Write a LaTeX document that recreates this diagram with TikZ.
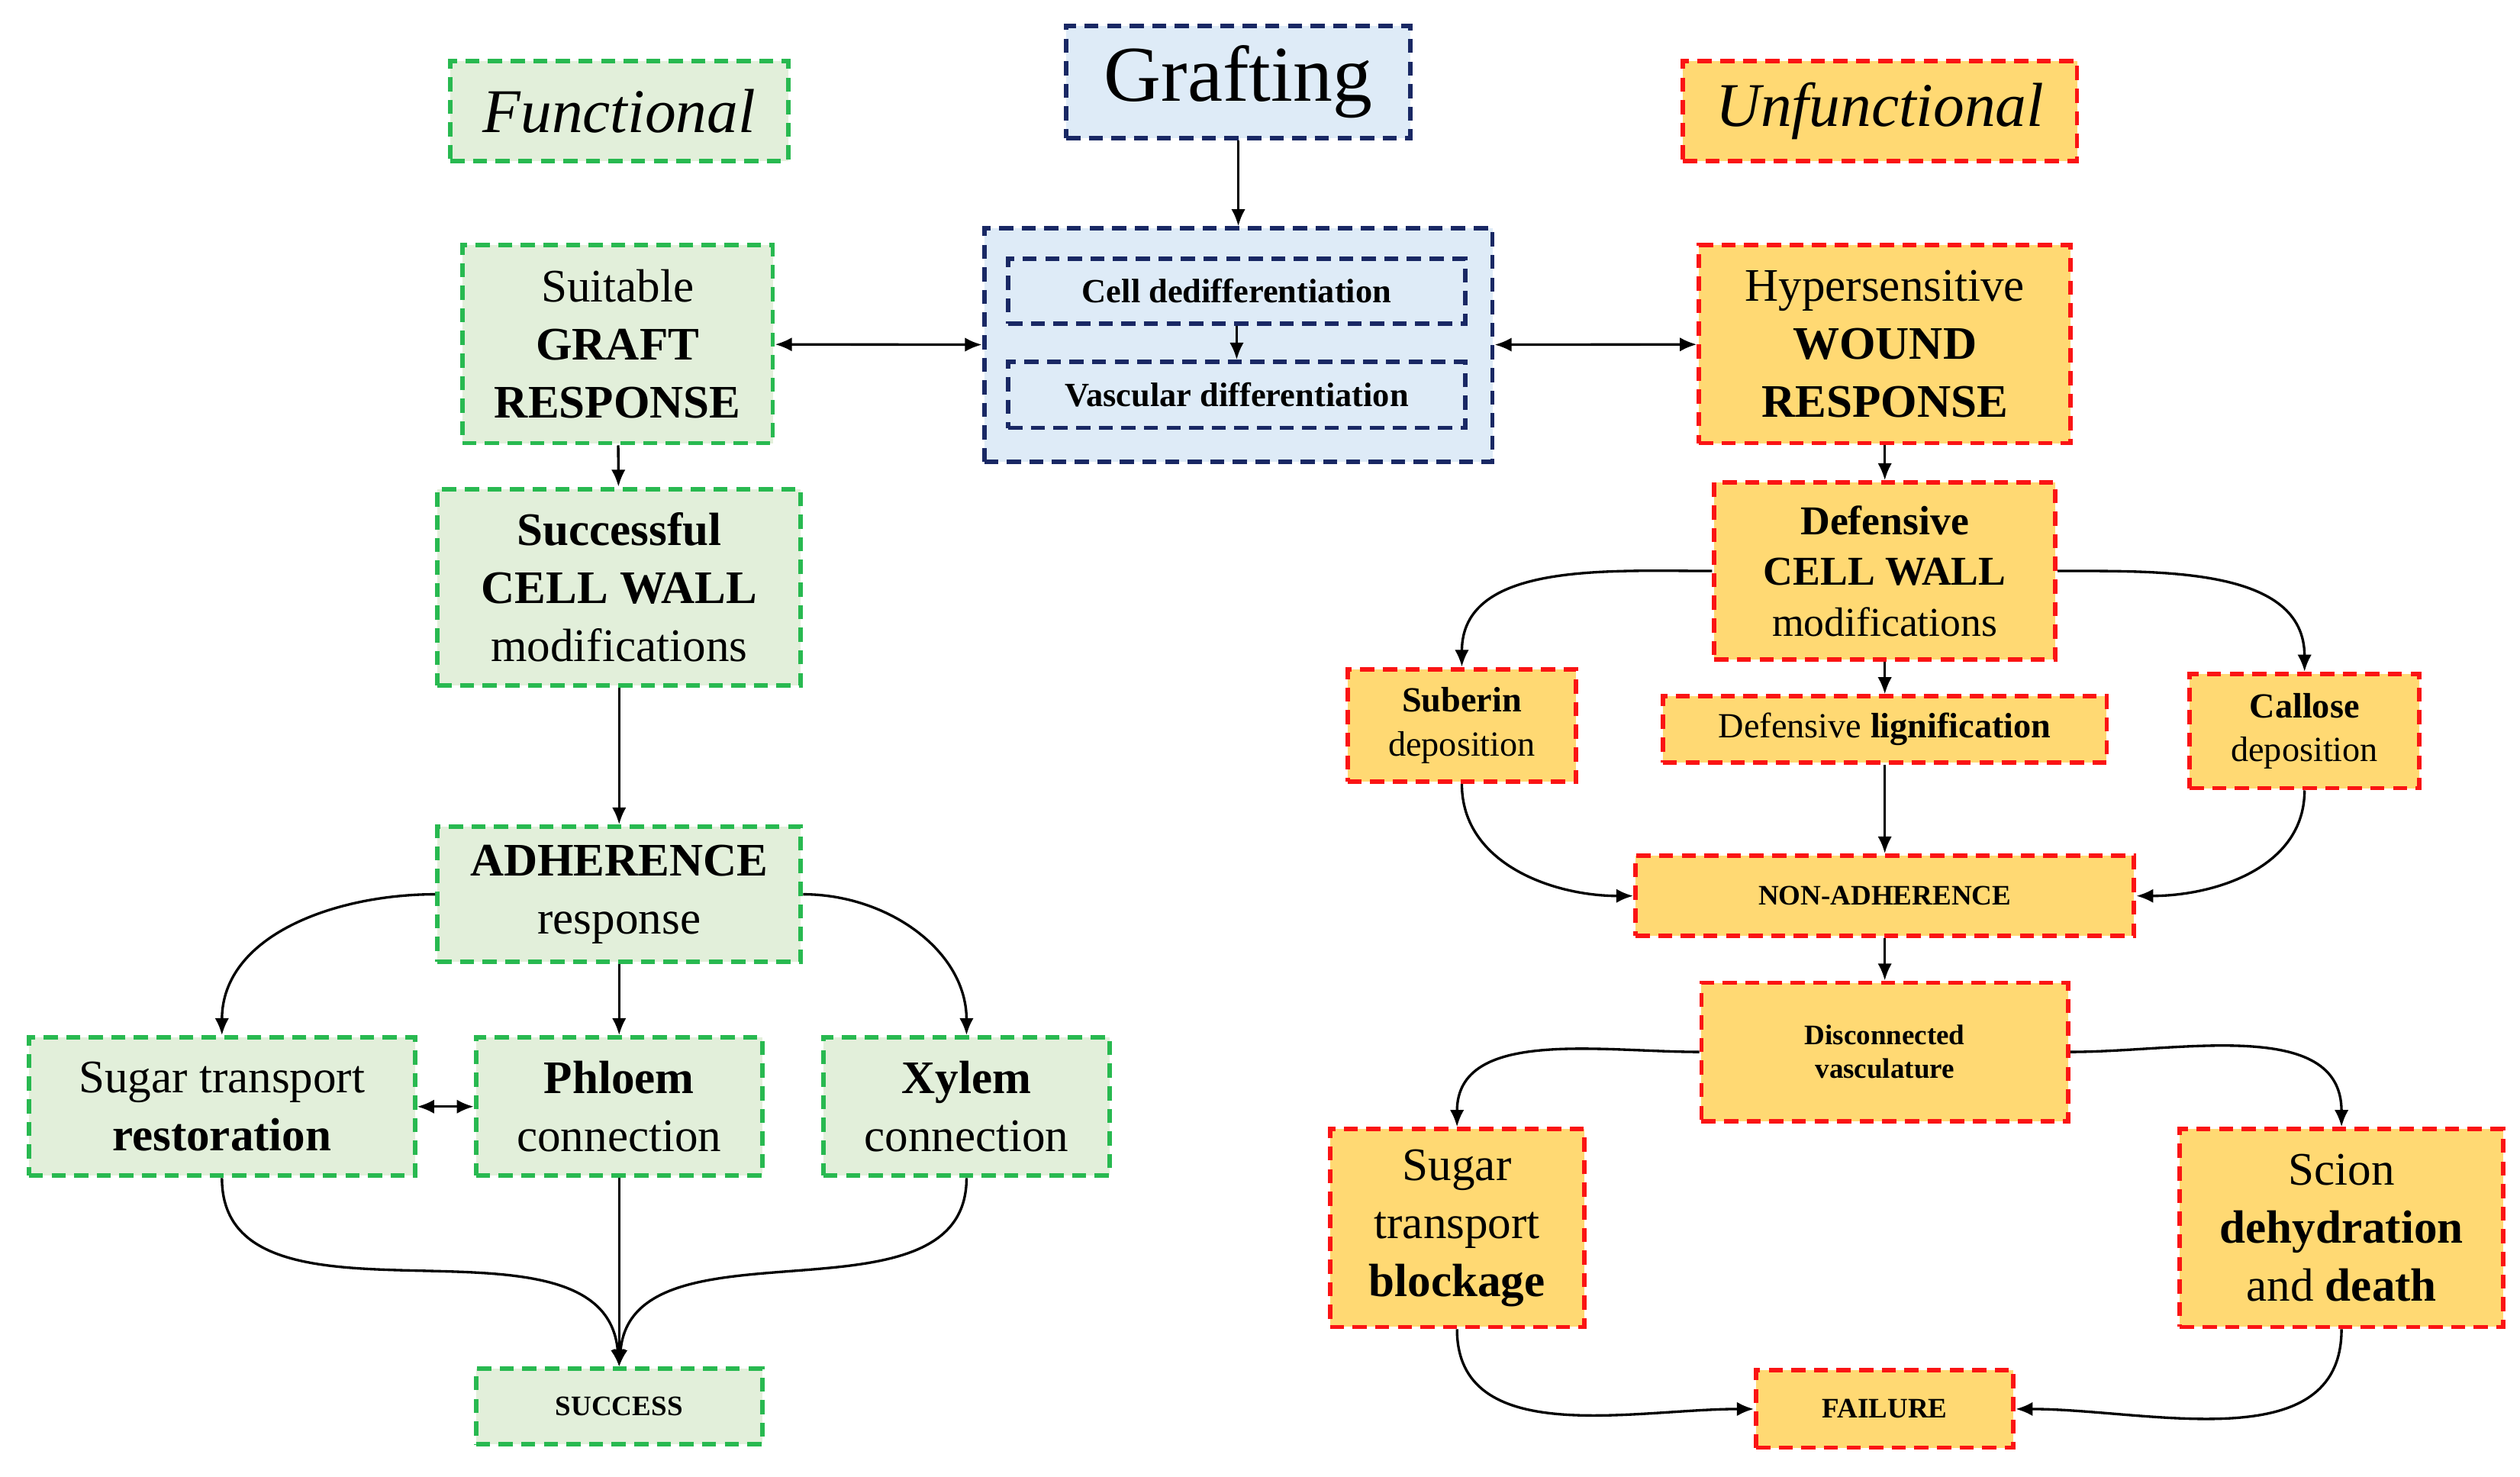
\documentclass[tikz,border=0pt]{standalone}
\usepackage{fontspec}
\setmainfont{Liberation Serif}
\usetikzlibrary{arrows.meta}
\definecolor{gB}{RGB}{40,185,80}\definecolor{gF}{RGB}{226,239,218}
\definecolor{bB}{RGB}{25,40,100}\definecolor{bF}{RGB}{222,235,247}
\definecolor{rB}{RGB}{250,20,20}\definecolor{rF}{RGB}{255,217,115}
\tikzset{
 bx/.style={draw,dashed,line width=1.6pt,dash pattern=on 5pt off 3pt,align=center,inner sep=0pt},
 g/.style={bx,draw=gB,fill=gF},
 b/.style={bx,draw=bB,fill=bF},
 r/.style={bx,draw=rB,fill=rF},
 sz/.style 2 args={minimum width=#1*0.02cm,minimum height=#2*0.02cm},
 big/.style={font=\fontsize{16.5}{20.5}\selectfont},
 sm/.style={font=\fontsize{12.5}{15.5}\selectfont},
 ar/.style={-{Latex[length=6pt,width=5pt]},line width=0.9pt},
 dar/.style={{Latex[length=6pt,width=5pt]}-{Latex[length=6pt,width=5pt]},line width=0.9pt}
}
\begin{document}
\begin{tikzpicture}[x=0.02cm,y=-0.02cm]
\useasboundingbox (0,0) rectangle (1567,918);
\node[g,sz={210}{62},font=\fontsize{22}{26}\selectfont\itshape] (fun) at (385,69) {Functional};
\node[b,sz={214}{70},font=\fontsize{28}{32}\selectfont] (gra) at (770,51) {Grafting};
\node[r,sz={245}{62},font=\fontsize{22}{26}\selectfont\itshape] (unf) at (1169,69) {Unfunctional};
\node[b,sz={316}{145}] (blu) at (770,214.5) {};
\node[b,sz={284}{40},font=\fontsize{12}{14}\selectfont\bfseries] (ced) at (769,181) {Cell dedifferentiation};
\node[b,sz={284}{41},font=\fontsize{12}{14}\selectfont\bfseries] (vad) at (769,245.5) {Vascular differentiation};
\node[g,sz={193}{123},big] (sui) at (384,214) {Suitable\\\textbf{GRAFT}\\\textbf{RESPONSE}};
\node[r,sz={231}{123},big] (hyp) at (1172,214) {Hypersensitive\\\textbf{WOUND}\\\textbf{RESPONSE}};
\node[g,sz={226}{122},big] (scw) at (385,365) {\textbf{Successful}\\\textbf{CELL WALL}\\modifications};
\node[r,sz={212}{110},font=\fontsize{14.5}{18}\selectfont] (dcw) at (1172,355) {\textbf{Defensive}\\\textbf{CELL WALL}\\modifications};
\node[r,sz={142}{70},sm] (sub) at (909,451) {\textbf{Suberin}\\deposition};
\node[r,sz={276}{41},sm] (lig) at (1172,453.5) {Defensive \textbf{lignification}};
\node[r,sz={143}{71},sm] (cal) at (1433,454.5) {\textbf{Callose}\\deposition};
\node[r,sz={310}{50},big,font=\bfseries] (non) at (1172,557) {NON-ADHERENCE};
\node[r,sz={228}{86},big,font=\bfseries] (dis) at (1172,654) {Disconnected\\vasculature};
\node[g,sz={226}{84},big] (adh) at (385,556) {\textbf{ADHERENCE}\\response};
\node[g,sz={240}{86},big] (sug) at (138,688) {Sugar transport\\\textbf{restoration}};
\node[g,sz={178}{86},big] (phl) at (385,688) {\textbf{Phloem}\\connection};
\node[g,sz={178}{86},big] (xyl) at (601,688) {\textbf{Xylem}\\connection};
\node[g,sz={178}{47},big,font=\bfseries] (suc) at (385,874.5) {SUCCESS};
\node[r,sz={158}{123},big] (sbl) at (906,763.5) {Sugar\\transport\\\textbf{blockage}};
\node[r,sz={201}{123},big] (sci) at (1456,763.5) {Scion\\\textbf{dehydration}\\and \textbf{death}};
\node[r,sz={160}{48},big,font=\bfseries] (fai) at (1172,876) {FAILURE};
% connectors
\draw[ar] (gra) -- (blu);
\draw[ar] (ced) -- (vad);
\draw[dar] (sui) -- (blu);
\draw[dar] (blu) -- (hyp);
\draw[ar] (sui) -- (scw);
\draw[ar] (scw) -- (adh);
\draw[ar] (adh.west) to[out=180,in=90] (sug.north);
\draw[ar] (adh) -- (phl);
\draw[ar] (adh.east) to[out=0,in=90] (xyl.north);
\draw[dar] (sug) -- (phl);
\draw[ar] (sug.south) to[out=-90,in=95] (suc.north);
\draw[ar] (phl) -- (suc);
\draw[ar] (xyl.south) to[out=-90,in=85] (suc.north);
\draw[ar] (hyp) -- (dcw);
\draw[ar] (dcw.west) to[out=180,in=90] (sub.north);
\draw[ar] (dcw) -- (lig);
\draw[ar] (dcw.east) to[out=0,in=90] (cal.north);
\draw[ar] (sub.south) to[out=-90,in=180] (non.west);
\draw[ar] (lig) -- (non);
\draw[ar] (cal.south) to[out=-90,in=0] (non.east);
\draw[ar] (non) -- (dis);
\draw[ar] (dis.west) to[out=180,in=90] (sbl.north);
\draw[ar] (dis.east) to[out=0,in=90] (sci.north);
\draw[ar] (sbl.south) to[out=-90,in=180] (fai.west);
\draw[ar] (sci.south) to[out=-90,in=0] (fai.east);
\end{tikzpicture}
\end{document}
